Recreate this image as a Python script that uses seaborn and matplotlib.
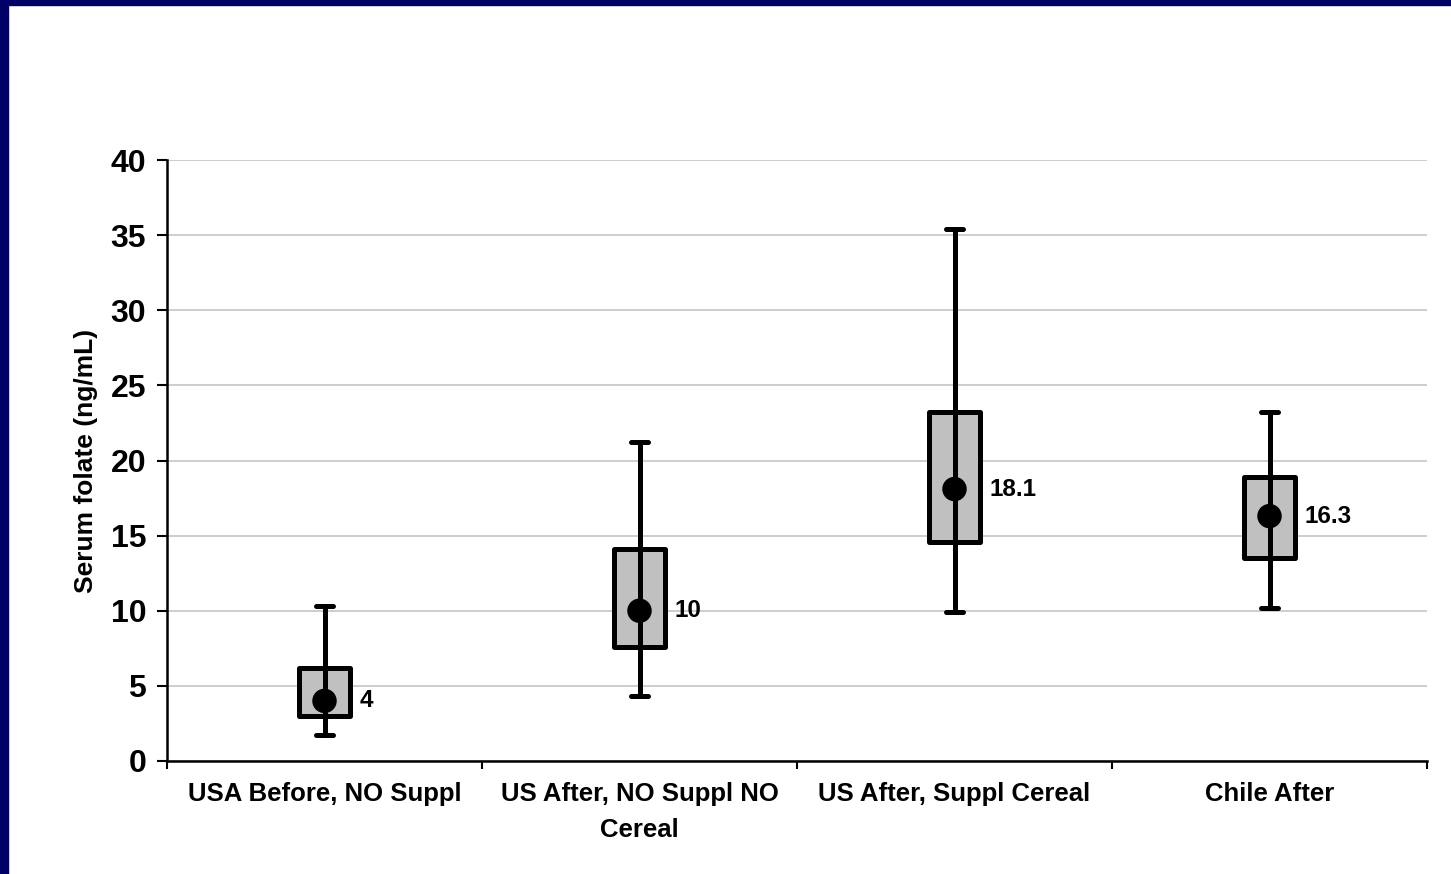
import numpy as np
import pandas as pd
import matplotlib
matplotlib.use("Agg")
import matplotlib.pyplot as plt
from matplotlib.patches import Rectangle
from matplotlib.ticker import FixedLocator, NullFormatter
import seaborn as sns

sns.set_style("white")
plt.rcParams['font.family'] = ['Liberation Sans', 'DejaVu Sans']
plt.rcParams['font.weight'] = 'bold'
plt.rcParams['text.color'] = 'black'
plt.rcParams['axes.labelcolor'] = 'black'
plt.rcParams['xtick.color'] = 'black'
plt.rcParams['ytick.color'] = 'black'

categories = ['USA Before, NO Suppl', 'US After, NO Suppl NO\nCereal',
              'US After, Suppl Cereal', 'Chile After']
whisker_low = [1.7, 4.3, 9.9, 10.2]
q1 = [3.0, 7.6, 14.6, 13.5]
medians = [4, 10, 18.1, 16.3]
q3 = [6.2, 14.1, 23.2, 18.9]
whisker_high = [10.3, 21.2, 35.4, 23.2]
yticks = [0, 5, 10, 15, 20, 25, 30, 35, 40]

# five summary values per group -> box from 25th/75th pct, whiskers at min/max
rows = []
for c, lo, a, m, b, hi in zip(categories, whisker_low, q1, medians, q3, whisker_high):
    for v in (lo, a, m, b, hi):
        rows.append({'group': c, 'value': v})
df = pd.DataFrame(rows)

fig = plt.figure(figsize=(14.51, 8.74), dpi=100)
fig.patch.set_facecolor('white')
ax = fig.add_axes([167/1451, 1-761/874, 1260/1451, 601/874])

sns.boxplot(data=df, x='group', y='value', order=categories, whis=(0, 100),
            width=0.165, color='#c0c0c0', saturation=1, linecolor='black',
            linewidth=3.6, medianprops={'visible': False},
            capprops={'solid_capstyle': 'round'}, capwidths=0.055,
            boxprops={'joinstyle': 'round'}, ax=ax)

pos = np.arange(len(categories))
ax.vlines(pos, q1, q3, color='black', linewidth=3.6, zorder=5)
sns.scatterplot(x=pos, y=medians, color='black', s=310, edgecolor='none',
                zorder=6, ax=ax)
for i, m in enumerate(medians):
    ax.annotate(f"{m:g}", (i, m), xytext=(25.5, 0), textcoords='offset points',
                va='center', ha='left', fontsize=17.5, fontweight='bold')

ax.set_xlim(-0.5, len(categories) - 0.5)
ax.set_ylim(0, 40)
ax.set_yticks(yticks)
ax.yaxis.grid(True, color='#c0c0c0', linewidth=1.1)
ax.set_axisbelow(True)

# boundary ticks on the x axis, labels centred under each group
ax.xaxis.set_major_locator(FixedLocator(np.arange(len(categories) + 1) - 0.5))
ax.xaxis.set_major_formatter(NullFormatter())
ax.xaxis.set_minor_locator(FixedLocator(pos))
ax.set_xticklabels(categories, minor=True, fontsize=18.5, fontweight='bold')
for lbl in ax.get_xticklabels(minor=True):
    lbl.set_linespacing(1.65)
ax.tick_params(axis='x', which='major', direction='out', length=6, width=1.5,
               color='black', bottom=True)
ax.tick_params(axis='x', which='minor', length=0, pad=15, bottom=True)
ax.tick_params(axis='y', direction='out', length=7, width=1.5, color='black',
               left=True, labelsize=23, pad=8)
for lbl in ax.get_yticklabels():
    lbl.set_fontweight('bold')

ax.set_xlabel('')
ax.set_ylabel('Serum folate (ng/mL)', fontsize=19, fontweight='bold', labelpad=9)

for s in ['top', 'right']:
    ax.spines[s].set_visible(False)
for s in ['left', 'bottom']:
    ax.spines[s].set_color('black')
    ax.spines[s].set_linewidth(1.8)

# navy frame along the top and left edges
fig.patches.append(Rectangle((0, 1 - 5/874), 1, 5/874, transform=fig.transFigure,
                             color='#000066', zorder=10))
fig.patches.append(Rectangle((0, 0), 8/1451, 1, transform=fig.transFigure,
                             color='#000066', zorder=10))

fig.savefig('out.png', dpi=100, facecolor='white')
